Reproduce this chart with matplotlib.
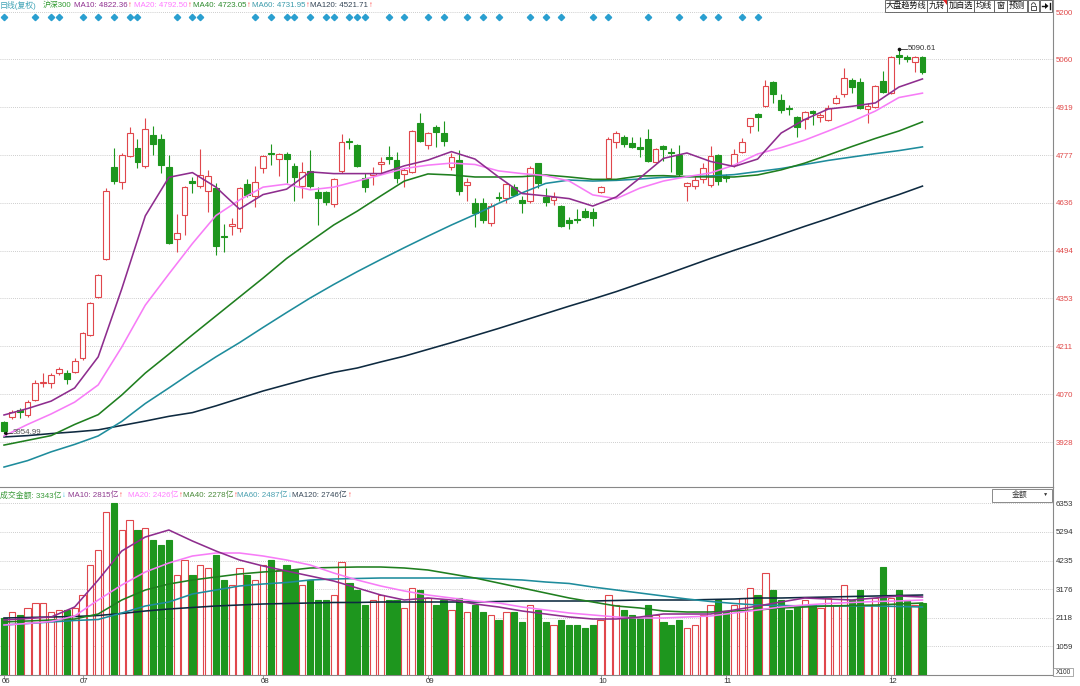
import matplotlib
matplotlib.use("Agg")
import matplotlib.pyplot as plt
from matplotlib.patches import Rectangle, Polygon, Arc
from matplotlib.transforms import Affine2D, blended_transform_factory

plt.rcParams['font.family'] = ['Liberation Sans', 'Noto Sans CJK SC', 'DejaVu Sans']

# ---- data ----
month_labels = ["06", "07", "08", "09", "10", "11", "12"]
month_start = [0, 10, 33, 54, 76, 92, 113]

opens = [3987, 4001, 4022, 4008, 4052, 4102, 4103, 4131, 4131, 4134,
         4176, 4245, 4356, 4468, 4742, 4696, 4774, 4799, 4745, 4836,
         4823, 4742, 4528, 4600, 4700, 4685, 4671, 4679, 4537, 4568,
         4562, 4691, 4656, 4740, 4782, 4764, 4780, 4745, 4685, 4731,
         4669, 4668, 4631, 4730, 4818, 4807, 4708, 4718, 4749, 4770,
         4762, 4720, 4728, 4871, 4807, 4861, 4843, 4741, 4762, 4687,
         4636, 4634, 4575, 4654, 4651, 4683, 4644, 4641, 4752, 4652,
         4644, 4626, 4585, 4588, 4611, 4609, 4667, 4708, 4815, 4831,
         4812, 4800, 4824, 4756, 4804, 4786, 4777, 4686, 4685, 4706,
         4688, 4777, 4715, 4748, 4785, 4864, 4898, 4922, 4994, 4940,
         4917, 4889, 4884, 4907, 4890, 4881, 4930, 4958, 4999, 4994,
         4912, 4920, 4996, 4961, 5073, 5068, 5051, 5068]
highs = [3990, 4023, 4028, 4052, 4111, 4132, 4132, 4150, 4141, 4177,
         4254, 4342, 4424, 4679, 4797, 4782, 4859, 4823, 4885, 4863,
         4840, 4777, 4602, 4684, 4713, 4794, 4733, 4693, 4572, 4590,
         4683, 4705, 4745, 4776, 4810, 4783, 4785, 4753, 4757, 4792,
         4683, 4672, 4708, 4839, 4826, 4810, 4723, 4741, 4772, 4804,
         4787, 4738, 4851, 4902, 4844, 4866, 4879, 4782, 4792, 4708,
         4649, 4649, 4634, 4669, 4693, 4692, 4656, 4744, 4754, 4679,
         4668, 4630, 4593, 4616, 4619, 4619, 4686, 4830, 4849, 4836,
         4830, 4831, 4855, 4797, 4807, 4797, 4807, 4698, 4715, 4754,
         4804, 4780, 4720, 4794, 4826, 4887, 4900, 4999, 4996, 4958,
         4925, 4893, 4908, 4910, 4902, 4924, 4955, 5034, 5004, 5004,
         4930, 4985, 5026, 5070, 5090.61, 5073, 5070, 5070]
lows = [3954.99, 3995, 3998, 4003, 4049, 4092, 4088, 4126, 4099, 4131,
        4170, 4243, 4353, 4466, 4691, 4675, 4770, 4738, 4740, 4777,
        4725, 4515, 4491, 4540, 4664, 4678, 4609, 4481, 4491, 4540,
        4550, 4652, 4624, 4723, 4747, 4715, 4693, 4641, 4649, 4678,
        4570, 4629, 4624, 4723, 4794, 4742, 4668, 4688, 4723, 4750,
        4695, 4682, 4724, 4816, 4794, 4800, 4804, 4733, 4659, 4642,
        4563, 4575, 4567, 4642, 4636, 4656, 4605, 4636, 4679, 4626,
        4629, 4565, 4557, 4575, 4590, 4567, 4664, 4706, 4797, 4800,
        4798, 4770, 4757, 4752, 4760, 4728, 4716, 4642, 4676, 4693,
        4683, 4688, 4698, 4742, 4782, 4841, 4848, 4918, 4932, 4902,
        4895, 4830, 4853, 4866, 4876, 4879, 4928, 4950, 4961, 4913,
        4873, 4916, 4959, 4958, 5046, 5052, 5022, 5017]
closes = [3962, 4018, 4018, 4047, 4102, 4107, 4125, 4143, 4115, 4167,
          4250, 4338, 4421, 4671, 4700, 4777, 4843, 4757, 4854, 4810,
          4748, 4518, 4545, 4681, 4693, 4718, 4715, 4509, 4533, 4572,
          4680, 4659, 4697, 4774, 4779, 4779, 4764, 4711, 4726, 4686,
          4651, 4639, 4705, 4816, 4815, 4745, 4683, 4723, 4757, 4764,
          4710, 4733, 4848, 4819, 4843, 4846, 4819, 4770, 4672, 4696,
          4605, 4585, 4626, 4651, 4690, 4659, 4636, 4738, 4695, 4639,
          4654, 4567, 4575, 4586, 4595, 4590, 4681, 4824, 4841, 4809,
          4802, 4794, 4760, 4794, 4795, 4782, 4721, 4693, 4703, 4738,
          4774, 4701, 4709, 4779, 4815, 4886, 4889, 4981, 4958, 4910,
          4912, 4859, 4905, 4900, 4894, 4915, 4945, 5004, 4979, 4915,
          4922, 4982, 4963, 5066, 5068, 5061, 5068, 5024]
turnover = [2109, 2331, 2220, 2479, 2664, 2664, 2331, 2405, 2405, 2479,
            2960, 4070, 4625, 6031, 6353, 5365, 5735, 5365, 5439, 4995,
            4810, 4995, 3700, 4255, 3700, 4070, 3959, 4440, 3515, 3330,
            3959, 3700, 3515, 4070, 4255, 3885, 4070, 3885, 3330, 3515,
            2775, 2775, 2960, 4181, 3404, 3145, 2590, 2775, 2960, 2775,
            2775, 2479, 3219, 3145, 2849, 2590, 2775, 2405, 2849, 2331,
            2590, 2331, 2220, 2035, 2331, 2331, 1961, 2590, 2405, 1961,
            1850, 2035, 1850, 1850, 1739, 1850, 2035, 2960, 2590, 2405,
            2220, 2109, 2590, 2220, 1961, 1850, 2035, 1739, 1850, 2220,
            2590, 2775, 2331, 2590, 2849, 3219, 2960, 3774, 3145, 2775,
            2405, 2590, 2775, 2590, 2479, 2849, 2590, 3330, 2775, 3145,
            2590, 2849, 3996, 2849, 3145, 2775, 2590, 2664]
signal_days = [0, 4, 6, 7, 10, 12, 14, 16, 17, 22, 24, 25, 32, 34, 36, 37,
               39, 41, 42, 44, 45, 46, 49, 51, 54, 56, 59, 61, 63, 67, 69,
               71, 75, 77, 82, 86, 89, 91, 94, 96]

ma_days = list(range(0, 118, 3))
ma10 = [4008, 4027, 4049, 4088, 4180, 4381, 4597, 4711, 4725, 4682,
        4617, 4660, 4676, 4727, 4722, 4722, 4722, 4745, 4762, 4787,
        4765, 4712, 4663, 4656, 4648, 4626, 4653, 4709, 4767, 4783,
        4758, 4743, 4765, 4842, 4882, 4913, 4921, 4931, 4978, 5002]
ma20 = [3946, 3980, 4011, 4046, 4097, 4209, 4333, 4425, 4515, 4598,
        4644, 4682, 4691, 4674, 4682, 4700, 4718, 4737, 4747, 4753,
        4749, 4730, 4722, 4716, 4700, 4659, 4648, 4679, 4700, 4713,
        4724, 4747, 4780, 4799, 4821, 4848, 4876, 4907, 4947, 4960]
ma40 = [3919, 3933, 3947, 3980, 4009, 4067, 4132, 4188, 4245, 4301,
        4357, 4413, 4471, 4521, 4570, 4611, 4656, 4700, 4721, 4718,
        4712, 4712, 4713, 4718, 4712, 4705, 4705, 4715, 4716, 4713,
        4712, 4712, 4718, 4733, 4753, 4777, 4802, 4826, 4848, 4875]
ma60 = [3854, 3873, 3899, 3921, 3946, 3989, 4042, 4088, 4135, 4180,
        4222, 4267, 4311, 4354, 4394, 4432, 4468, 4503, 4537, 4570,
        4601, 4634, 4665, 4693, 4703, 4700, 4702, 4706, 4711, 4713,
        4715, 4719, 4728, 4737, 4749, 4761, 4771, 4781, 4790, 4801]
ma120 = [3943, 3947, 3953, 3958, 3964, 3977, 3990, 4004, 4015, 4035,
         4057, 4079, 4098, 4117, 4134, 4147, 4165, 4182, 4202, 4222,
         4243, 4264, 4286, 4308, 4330, 4351, 4373, 4397, 4421, 4446,
         4471, 4495, 4518, 4542, 4566, 4589, 4613, 4637, 4660, 4685]

vol_ma10 = [2035, 2090, 2146, 2516, 3515, 4588, 5106, 5365, 4958, 4588,
            4255, 4033, 3848, 3663, 3478, 3219, 2960, 2775, 2849, 2775,
            2627, 2516, 2368, 2257, 2146, 2072, 2072, 2146, 2257, 2257,
            2257, 2405, 2553, 2701, 2849, 2812, 2775, 2849, 2923, 2886]
vol_ma20 = [1850, 1906, 1980, 2183, 2775, 3330, 3811, 4144, 4403, 4514,
            4514, 4403, 4255, 4070, 3774, 3515, 3293, 3108, 2960, 2849,
            2738, 2664, 2516, 2405, 2294, 2220, 2146, 2109, 2109, 2146,
            2183, 2294, 2405, 2516, 2590, 2646, 2683, 2720, 2738, 2775]
vol_ma40 = [1961, 1998, 2035, 2072, 2257, 2775, 3145, 3367, 3515, 3626,
            3737, 3811, 3866, 3959, 3978, 3996, 3996, 3959, 3885, 3737,
            3589, 3404, 3219, 3034, 2849, 2701, 2553, 2479, 2368, 2331,
            2331, 2368, 2405, 2479, 2516, 2553, 2572, 2590, 2627, 2664]
vol_ma60 = [1850, 1906, 1961, 2017, 2054, 2294, 2553, 2701, 2997, 3145,
            3293, 3367, 3423, 3515, 3552, 3571, 3589, 3589, 3589, 3589,
            3589, 3552, 3515, 3441, 3386, 3256, 3145, 3034, 2923, 2812,
            2720, 2646, 2590, 2572, 2553, 2553, 2553, 2553, 2535, 2516]
vol_ma120 = [2109, 2128, 2146, 2165, 2202, 2276, 2368, 2442, 2498, 2553,
             2590, 2627, 2646, 2664, 2683, 2683, 2701, 2701, 2701, 2701,
             2701, 2720, 2738, 2738, 2738, 2738, 2757, 2775, 2775, 2775,
             2794, 2812, 2849, 2849, 2868, 2886, 2905, 2923, 2942, 2960]

price_ticks = [5200, 5060, 4919, 4777, 4636, 4494, 4353, 4211, 4070, 3928]
vol_ticks = [6353, 5294, 4235, 3176, 2118, 1059]

price_legend = [("日线(复权)", "#3fa3b5", ""), ("沪深300", "#2f9b2f", ""),
                ("MA10: 4822.36", "#8e2d8e", "↑"), ("MA20: 4792.50", "#ff7aff", "↑"),
                ("MA40: 4723.05", "#2e8b2e", "↑"), ("MA60: 4731.95", "#3a9aaa", "↑"),
                ("MA120: 4521.71", "#334455", "↑")]
price_legend_x = [0, 42.5, 74, 134, 193, 252, 310.5]
vol_legend = [("成交金额: 3343亿", "#3a9a3a", "↓"), ("MA10: 2815亿", "#8e3a8e", "↑"),
              ("MA20: 2426亿", "#ff80ff", "↑"), ("MA40: 2278亿", "#4a8a3a", "↑"),
              ("MA60: 2487亿", "#4aa0b0", "↓"), ("MA120: 2746亿", "#3a4a5a", "↑")]
vol_legend_x = [0, 68, 128, 183, 237, 292.5]

buttons = [(885, 927, "大盘趋势线"), (927, 947, "九转"), (947, 974, "加自选"),
           (974, 994, "均线"), (994, 1007, "窗"), (1007, 1027, "预测"),
           (1028, 1039, ""), (1040, 1052, "")]

RED = "#e0474c"
GREEN = "#1e961e"
C_MA10, C_MA20, C_MA40, C_MA60, C_MA120 = "#8e2d8e", "#f77cf7", "#1f7f1f", "#1e8c9c", "#0e2a40"
FS = 5.7

W, H = 1080, 686
fig = plt.figure(figsize=(W / 100, H / 100), dpi=100)
fig.patch.set_facecolor("white")
pix = Affine2D().scale(1 / W, -1 / H).translate(0, 1) + fig.transFigure
renderer = fig.canvas.get_renderer()

n = len(closes)
xlim = (-0.51, 133.63)

# ---- price panel ----
ax = fig.add_axes([0, 1 - 487 / H, 1053 / W, 487 / H])
ax.set_xlim(*xlim)
ax.set_ylim(3795, 5235.5)
for i in range(n):
    o, h, l, c = opens[i], highs[i], lows[i], closes[i]
    up = c >= o
    col = RED if up else GREEN
    ax.vlines(i, l, h, color=col, lw=0.8, zorder=2)
    bot = min(o, c)
    hgt = max(abs(c - o), 1.5)
    ax.add_patch(Rectangle((i - 0.37, bot), 0.74, hgt, facecolor="white" if up else col,
                           edgecolor=col, lw=0.8, zorder=3))

for vals, col in [(ma120, C_MA120), (ma60, C_MA60), (ma40, C_MA40), (ma20, C_MA20), (ma10, C_MA10)]:
    ax.plot(ma_days, vals, color=col, lw=1.15, zorder=4, solid_joinstyle="round")

top_tr = blended_transform_factory(ax.transData, ax.transAxes)
ax.plot(signal_days, [1 - 17 / 487] * len(signal_days), "D", ms=3.2, color="#2a9fd0",
        transform=top_tr, clip_on=False, zorder=5)

hi = max(highs)
hi_i = highs.index(hi)
ax.plot([hi_i, hi_i + 1], [hi, hi], color="#333333", lw=0.6, zorder=6)
ax.plot(hi_i, hi, "o", ms=1.6, color="#111111", zorder=6)
ax.text(hi_i + 1.1, hi, f"{hi:.2f}", fontsize=FS, va="center", ha="left", color="#333333", zorder=6)
lo = min(lows)
lo_i = lows.index(lo)
ax.plot([lo_i, lo_i + 1], [lo, lo], color="#333333", lw=0.6, zorder=6)
ax.plot(lo_i + 0.15, lo, "<", ms=1.8, color="#111111", zorder=6)
ax.text(lo_i + 1.1, lo, f"{lo:.2f}", fontsize=FS, va="center", ha="left", color="#555555", zorder=6)

ax.yaxis.tick_right()
ax.set_yticks(price_ticks)
ax.set_yticklabels([str(v) for v in price_ticks])
ax.tick_params(axis="y", length=0, pad=2, labelsize=FS, labelcolor="#e04848")
ax.set_xticks([])
ax.grid(axis="y", linestyle=(0, (1, 1.5)), color="#bdbdbd", lw=0.6, zorder=0)
for s in ["top", "left", "bottom"]:
    ax.spines[s].set_visible(False)
ax.spines["right"].set_color("#888888")
ax.spines["right"].set_linewidth(0.8)

# ---- turnover panel ----
axv = fig.add_axes([0, 1 - 675 / H, 1053 / W, 188 / H])
axv.set_xlim(*xlim)
axv.set_ylim(0, 6956)
for i in range(n):
    up = closes[i] >= opens[i]
    col = RED if up else GREEN
    axv.add_patch(Rectangle((i - 0.4, 0), 0.8, turnover[i], facecolor="white" if up else col,
                            edgecolor=col, lw=0.8, zorder=3))
for vals, col in [(vol_ma120, C_MA120), (vol_ma60, C_MA60), (vol_ma40, C_MA40),
                  (vol_ma20, C_MA20), (vol_ma10, C_MA10)]:
    axv.plot(ma_days, vals, color=col, lw=1.15, zorder=4, solid_joinstyle="round")

axv.yaxis.tick_right()
axv.set_yticks(vol_ticks)
axv.set_yticklabels([str(v) for v in vol_ticks])
axv.tick_params(axis="y", length=0, pad=2, labelsize=FS, labelcolor="#333333")
axv.set_xticks(month_start)
axv.set_xticklabels([])
axv.tick_params(axis="x", length=3, width=0.6, color="#888888", direction="out")
axv.grid(axis="y", linestyle=(0, (1, 1.5)), color="#bdbdbd", lw=0.6, zorder=0)
axv.spines["left"].set_visible(False)
for s in ["top", "right", "bottom"]:
    axv.spines[s].set_color("#888888")
    axv.spines[s].set_linewidth(0.8)
bot_tr = blended_transform_factory(axv.transData, axv.transAxes)
for d, lab in zip(month_start, month_labels):
    axv.text(d - 0.3, -0.035, lab, transform=bot_tr, fontsize=FS, ha="left", va="center",
             color="#333333", clip_on=False)


# ---- legends: each label followed by its trend arrow ----
def legend_row(items, xs, y):
    for (s, col, arr), x0 in zip(items, xs):
        t = fig.text(x0, y, s, transform=pix, fontsize=FS, color=col, ha="left", va="center")
        if arr:
            x1 = t.get_window_extent(renderer).x1
            fig.text(x1 + 0.5, H - y, arr, transform=None, fontsize=FS, ha="left", va="center",
                     color="#ff4545" if arr == "↑" else "#40c0e0")


legend_row(price_legend, price_legend_x, 5.5)
legend_row(vol_legend, vol_legend_x, 495.5)

# ---- toolbar widgets ----
for x0, x1, lab in buttons:
    fig.add_artist(Rectangle((x0, 0), x1 - x0, 11.5, transform=pix, facecolor="white",
                             edgecolor="#555555", lw=0.6))
    if lab:
        fig.text((x0 + x1) / 2, 6, lab, transform=pix, fontsize=5.9, color="#111111",
                 ha="center", va="center")
fig.add_artist(Polygon([[942.5, 0], [947, 0], [947, 4.5]], closed=True, transform=pix,
                       facecolor="#e02020", edgecolor="none"))
fig.add_artist(Rectangle((1030.8, 5.5), 5.4, 4.2, transform=pix, facecolor="white",
                         edgecolor="#333333", lw=0.6))
fig.add_artist(Arc((1033.5, 5.5), 4.0, 5.5, theta1=180, theta2=360, transform=pix,
                   edgecolor="#333333", lw=0.6))
fig.add_artist(Polygon([[1045, 3], [1048.5, 6], [1045, 9]], closed=True, transform=pix,
                       facecolor="#111111", edgecolor="none"))
fig.add_artist(plt.Line2D([1042, 1046], [6, 6], transform=pix, color="#111111", lw=1.0))
fig.add_artist(plt.Line2D([1049.5, 1049.5], [3, 9], transform=pix, color="#111111", lw=1.0))

fig.add_artist(Rectangle((992, 488.5), 60, 13, transform=pix, facecolor="white",
                         edgecolor="#777777", lw=0.6))
fig.text(1020, 495, "金额", transform=pix, fontsize=FS, color="#333333", ha="center", va="center")
fig.text(1046, 494.5, "▼", transform=pix, fontsize=3.8, color="#333333", ha="center", va="center")
fig.add_artist(Rectangle((1053, 668), 20, 7.5, transform=pix, facecolor="white",
                         edgecolor="#888888", lw=0.5))
fig.text(1063, 672, "X100", transform=pix, fontsize=4.8, color="#333333", ha="center", va="center")

fig.savefig("out.png", dpi=100)
